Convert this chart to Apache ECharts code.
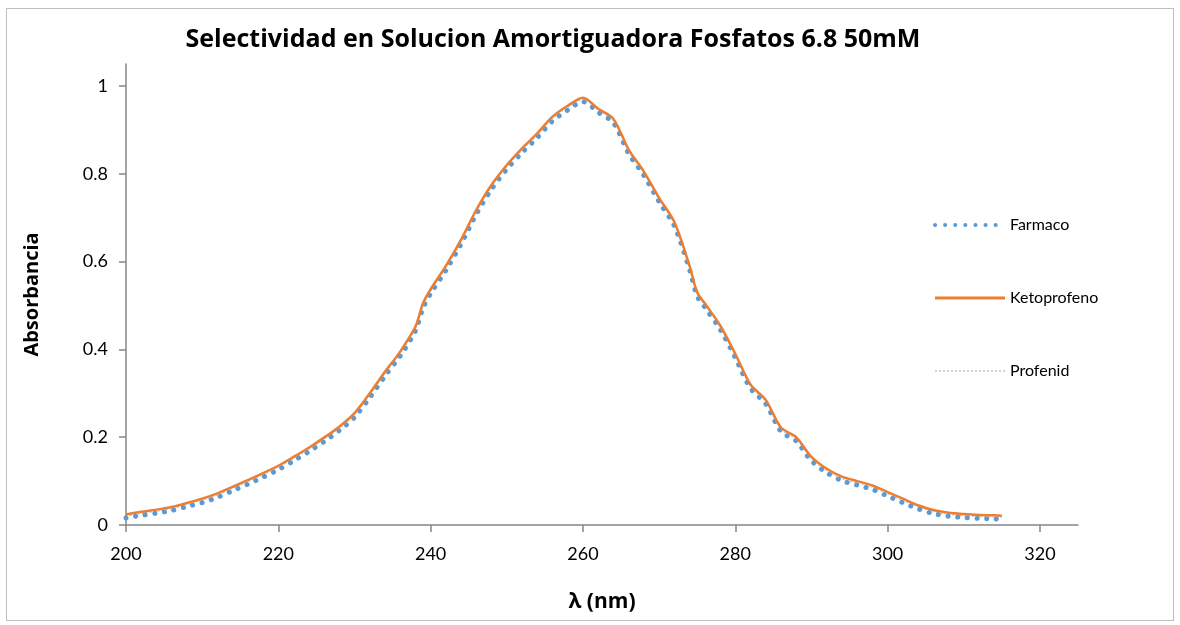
<!DOCTYPE html>
<html>
<head>
<meta charset="utf-8">
<script src="https://cdn.jsdelivr.net/npm/echarts@6/dist/echarts.min.js"></script>
<style>
  html, body { margin: 0; padding: 0; background: #fff; }
  #frame { position: absolute; left: 6px; top: 8px; width: 1166px; height: 611px; border: 1px solid #bfbfbf; }
  #main { position: absolute; left: 0; top: 0; width: 1180px; height: 625px; }
</style>
</head>
<body>
<div id="frame"></div>
<div id="main"></div>
<script>
// wavelength (nm)
const wavelengths = [200, 202, 204, 206, 208, 210, 212, 214, 216, 218, 220, 222, 224, 226, 228, 230,
  232, 234, 236, 238, 239, 240, 242, 244, 246, 248, 250, 252, 254, 256, 258, 260, 262, 264, 266, 268,
  270, 272, 274, 275, 276, 278, 280, 282, 284, 286, 288, 290, 292, 294, 296, 298, 300, 302, 304, 306,
  308, 310, 312, 314, 315]

const ketoprofeno = [0.024, 0.030, 0.035, 0.041, 0.050, 0.060, 0.072, 0.087, 0.102, 0.118, 0.135, 0.155,
  0.176, 0.199, 0.224, 0.255, 0.300, 0.349, 0.395, 0.452, 0.505, 0.537, 0.590, 0.650, 0.718, 0.775, 0.820,
  0.858, 0.892, 0.930, 0.955, 0.973, 0.948, 0.925, 0.855, 0.805, 0.745, 0.690, 0.590, 0.530, 0.505, 0.455,
  0.390, 0.320, 0.285, 0.222, 0.200, 0.155, 0.128, 0.110, 0.100, 0.090, 0.075, 0.060, 0.045, 0.034, 0.028,
  0.025, 0.023, 0.022, 0.021]

const farmaco = [0.016, 0.022, 0.027, 0.033, 0.042, 0.051, 0.063, 0.078, 0.093, 0.109, 0.126, 0.146,
  0.167, 0.190, 0.215, 0.245, 0.290, 0.339, 0.385, 0.442, 0.494, 0.527, 0.580, 0.640, 0.708, 0.765, 0.810,
  0.848, 0.882, 0.920, 0.945, 0.964, 0.940, 0.916, 0.846, 0.796, 0.736, 0.681, 0.581, 0.521, 0.496, 0.446,
  0.381, 0.311, 0.276, 0.213, 0.191, 0.146, 0.119, 0.101, 0.091, 0.081, 0.066, 0.051, 0.037, 0.026, 0.020,
  0.017, 0.015, 0.014, 0.013]

const profenid = [0.020, 0.026, 0.031, 0.037, 0.046, 0.056, 0.068, 0.083, 0.098, 0.114, 0.131, 0.151,
  0.172, 0.195, 0.220, 0.250, 0.295, 0.344, 0.390, 0.447, 0.500, 0.532, 0.585, 0.645, 0.713, 0.770, 0.815,
  0.853, 0.887, 0.925, 0.950, 0.968, 0.944, 0.920, 0.850, 0.800, 0.740, 0.685, 0.585, 0.525, 0.500, 0.450,
  0.385, 0.315, 0.280, 0.217, 0.195, 0.150, 0.123, 0.105, 0.095, 0.085, 0.070, 0.055, 0.041, 0.030, 0.024,
  0.021, 0.019, 0.018, 0.017]

const xTicks = [200, 220, 240, 260, 280, 300, 320]
const yTicks = [0, 0.2, 0.4, 0.6, 0.8, 1]

const pairs = (ys) => wavelengths.map((x, i) => [x, ys[i]])

const font = 'Lato, "Open Sans", sans-serif'
const boldFont = '"Open Sans", Lato, sans-serif'
const chart = echarts.init(document.getElementById('main'))
const option = {
  animation: false,
  textStyle: { fontFamily: font },
  title: {
    text: 'Selectividad en Solucion Amortiguadora Fosfatos 6.8 50mM',
    left: 548,
    textAlign: 'center',
    top: 22,
    textStyle: { fontFamily: boldFont, fontSize: 25, fontWeight: 'bold', color: '#000' }
  },
  legend: {
    orient: 'vertical',
    left: 928,
    top: 212,
    itemWidth: 70,
    itemHeight: 14,
    itemGap: 57,
    itemStyle: { opacity: 0, borderWidth: 0 },
    textStyle: { fontFamily: font, fontSize: 16, color: '#000' },
    data: [
      { name: 'Farmaco', lineStyle: { width: 4, type: [0.1, 10], cap: 'round' } },
      { name: 'Ketoprofeno', lineStyle: { width: 3 } },
      { name: 'Profenid', lineStyle: { width: 1.2, color: '#a6a6a6', type: [2, 2] } }
    ]
  },
  grid: { left: 126, right: 102, top: 64, bottom: 100 },
  xAxis: {
    type: 'value',
    min: 200,
    max: 325,
    interval: 20,
    name: 'λ (nm)',
    nameLocation: 'middle',
    nameGap: 67,
    nameTextStyle: { fontFamily: boldFont, fontSize: 21, fontWeight: 'bold', color: '#000' },
    splitLine: { show: false },
    axisLine: { lineStyle: { color: '#868686', width: 1.5 } },
    axisTick: { show: true, length: 7, customValues: xTicks, lineStyle: { color: '#868686', width: 1.5 } },
    axisLabel: { customValues: xTicks, fontSize: 18, color: '#000', margin: 20 }
  },
  yAxis: {
    type: 'value',
    min: 0,
    max: 1.05,
    interval: 0.2,
    name: 'Absorbancia',
    nameLocation: 'middle',
    nameGap: 84,
    nameTextStyle: { fontFamily: boldFont, fontSize: 20, fontWeight: 'bold', color: '#000' },
    splitLine: { show: false },
    axisLine: { show: true, lineStyle: { color: '#868686', width: 1.5 } },
    axisTick: { show: true, length: 7, customValues: yTicks, lineStyle: { color: '#868686', width: 1.5 } },
    axisLabel: { customValues: yTicks, fontSize: 18, color: '#000', margin: 18 }
  },
  series: [
    {
      name: 'Farmaco',
      type: 'line',
      data: pairs(farmaco),
      symbol: 'none',
      smooth: 0.3,
      z: 3,
      itemStyle: { color: '#5b9bd5' },
      lineStyle: { color: '#5b9bd5', width: 5, type: [0.1, 9.6], cap: 'round' }
    },
    {
      name: 'Ketoprofeno',
      type: 'line',
      data: pairs(ketoprofeno),
      symbol: 'none',
      smooth: 0.3,
      z: 4,
      itemStyle: { color: '#ed7d31' },
      lineStyle: { color: '#ed7d31', width: 2.5 }
    },
    {
      name: 'Profenid',
      type: 'line',
      data: pairs(profenid),
      symbol: 'none',
      smooth: 0.3,
      z: 2,
      itemStyle: { color: '#bfbfbf' },
      lineStyle: { color: '#bfbfbf', width: 1, type: [2, 2] }
    }
  ]
}
option && chart.setOption(option)
</script>
</body>
</html>
